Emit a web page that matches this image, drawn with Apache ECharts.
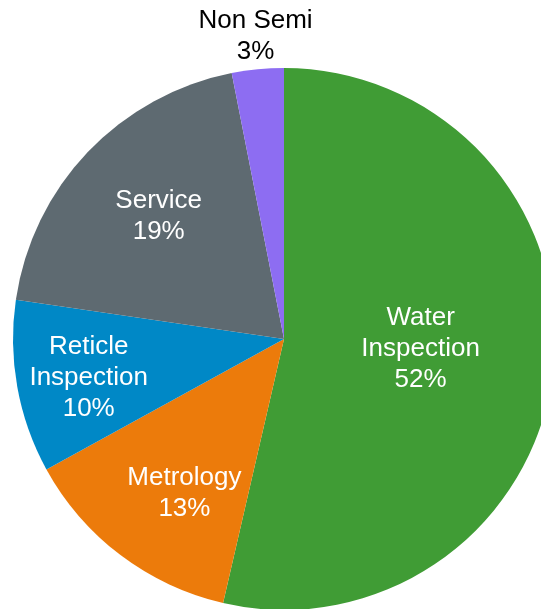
<!DOCTYPE html>
<html>
<head>
<meta charset="utf-8">
<script src="https://cdn.jsdelivr.net/npm/echarts@6/dist/echarts.min.js"></script>
<style>
  html, body { margin: 0; padding: 0; background: #ffffff; }
  #chart { width: 541px; height: 609px; }
</style>
</head>
<body>
<div id="chart"></div>
<script>
// Revenue share by segment
const categories = ['Water\nInspection', 'Metrology', 'Reticle\nInspection', 'Service', 'Non Semi'];
const shares = [52, 13, 10, 19, 3];
const colors = ['#409C35', '#EC7B0B', '#0088C6', '#5E6A71', '#8D6DF2'];
const labelColors = ['#ffffff', '#ffffff', '#ffffff', '#ffffff', '#000000'];
// label nudges away from the default mid-radius spot
const labelShift = [[-1, -6], [-16, 44], [-59, 14], [-25, -27], [-15, -165]];

const chart = echarts.init(document.getElementById('chart'), null, { renderer: 'canvas' });

chart.setOption({
  animation: false,
  backgroundColor: '#ffffff',
  series: [{
    type: 'pie',
    center: [284, 339],
    radius: 271,
    startAngle: 90,
    clockwise: true,
    avoidLabelOverlap: false,
    itemStyle: { borderWidth: 0 },
    label: {
      show: true,
      position: 'inside',
      fontFamily: 'Liberation Sans, Arial, sans-serif',
      fontSize: 26,
      lineHeight: 31,
      align: 'center',
      formatter: p => p.name + '\n' + p.value + '%'
    },
    labelLine: { show: false },
    emphasis: { disabled: true },
    labelLayout: p => ({ dx: labelShift[p.dataIndex][0], dy: labelShift[p.dataIndex][1] }),
    data: categories.map((name, i) => ({
      name: name,
      value: shares[i],
      itemStyle: { color: colors[i] },
      label: { color: labelColors[i] }
    }))
  }]
});
</script>
</body>
</html>
